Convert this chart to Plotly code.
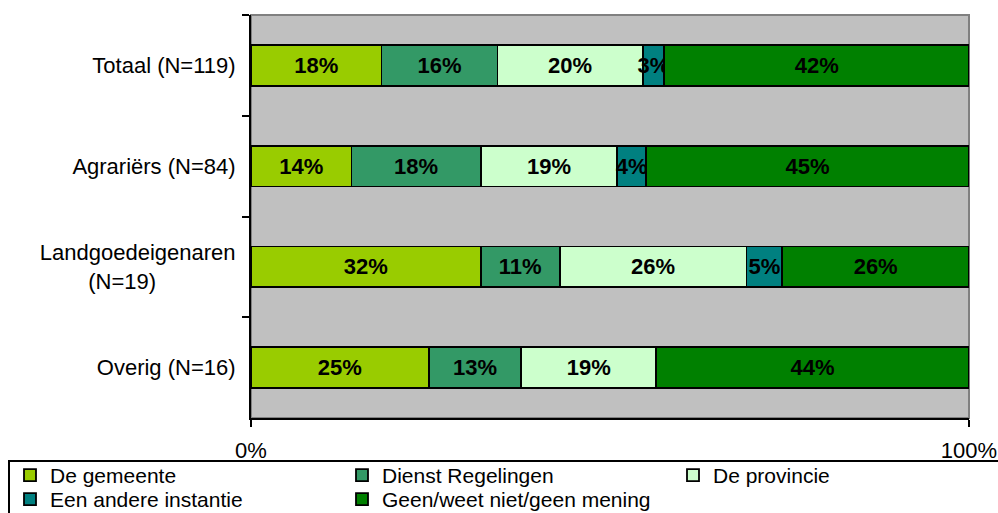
import plotly.graph_objects as go

categories = ["Totaal (N=119)", "Agrariërs (N=84)",
              "Landgoedeigenaren<br>(N=19)" + "\u00a0" * 13, "Overig (N=16)"]
series_names = ["De gemeente", "Dienst Regelingen", "De provincie",
                "Een andere instantie", "Geen/weet niet/geen mening"]
de_gemeente = [18, 14, 32, 25]
dienst_regelingen = [16, 18, 11, 13]
de_provincie = [20, 19, 26, 19]
andere_instantie = [3, 4, 5, 0]
geen_mening = [42, 45, 26, 44]
colors = ["#99CC00", "#339966", "#CCFFCC", "#008080", "#008000"]

series_values = [de_gemeente, dienst_regelingen, de_provincie,
                 andere_instantie, geen_mening]

FONT = "Liberation Sans, Arial, sans-serif"
W, H = 998, 513
L, R, T, B = 251, 29, 15, 95
PW, PH = W - L - R, H - T - B

# legend slot per entry (column left px, row top px)
legend_ids = ["legend", "legend2", "legend3", "legend4", "legend5"]
legend_slots = [(10, 455), (342, 455), (673, 455), (10, 479), (342, 479)]

fig = go.Figure()
for name, vals, col, lg in zip(series_names, series_values, colors, legend_ids):
    fig.add_trace(go.Bar(
        y=categories, x=vals, name=name, orientation="h", legend=lg,
        marker=dict(color=col, line=dict(color="black", width=1.8)),
        text=[f"{v}%" if v > 0 else "" for v in vals],
        textposition="inside", insidetextanchor="middle",
        constraintext="none", textangle=0,
        textfont=dict(family=FONT, size=22, color="black", weight="bold"),
        hoverinfo="skip",
    ))


def legend_at(px_left, px_top):
    return dict(
        orientation="v", xref="paper", yref="paper",
        x=(px_left - L) / PW, y=-(px_top - (H - B)) / PH,
        xanchor="left", yanchor="top",
        borderwidth=0, bgcolor="rgba(0,0,0,0)",
        font=dict(family=FONT, size=21, color="black"),
        traceorder="normal", tracegroupgap=0, itemwidth=30,
    )


legends = {lg: legend_at(*slot) for lg, slot in zip(legend_ids, legend_slots)}

fig.update_layout(
    width=W, height=H,
    barmode="stack", barnorm="percent", bargap=0.594,
    plot_bgcolor="#C0C0C0", paper_bgcolor="white",
    margin=dict(l=L, r=R, t=T, b=B, autoexpand=False),
    font=dict(family=FONT, size=21, color="black"),
    showlegend=True,
    **legends,
    shapes=[
        dict(type="rect", xref="paper", yref="paper", x0=0, x1=1, y0=0, y1=1,
             line=dict(color="#808080", width=2), layer="below"),
        dict(type="rect", xref="paper", yref="paper",
             x0=(9 - L) / PW, x1=(W + 5 - L) / PW,
             y0=-(H + 10 - (H - B)) / PH, y1=-(461 - (H - B)) / PH,
             line=dict(color="black", width=2), fillcolor="rgba(0,0,0,0)",
             layer="above"),
    ],
)
fig.update_xaxes(
    range=[0, 100], tickvals=[0, 100], ticktext=["0%", "100%"],
    showgrid=False, zeroline=False, automargin=False,
    showline=True, linecolor="black", linewidth=2,
    ticks="outside", ticklen=7, tickwidth=2, tickcolor="black",
    ticklabelstandoff=5,
    tickfont=dict(family=FONT, size=22, color="black"),
)
fig.update_yaxes(
    autorange="reversed", categoryorder="array", categoryarray=categories,
    showgrid=False, zeroline=False, automargin=False,
    showline=True, linecolor="black", linewidth=2,
    ticks="outside", ticklen=7, tickwidth=2, tickcolor="black",
    tickson="boundaries", ticklabelstandoff=9,
    tickfont=dict(family=FONT, size=22, color="black"),
)

fig.write_html("out.html", config={"displayModeBar": False},
               post_script="document.body.style.margin='0';")
